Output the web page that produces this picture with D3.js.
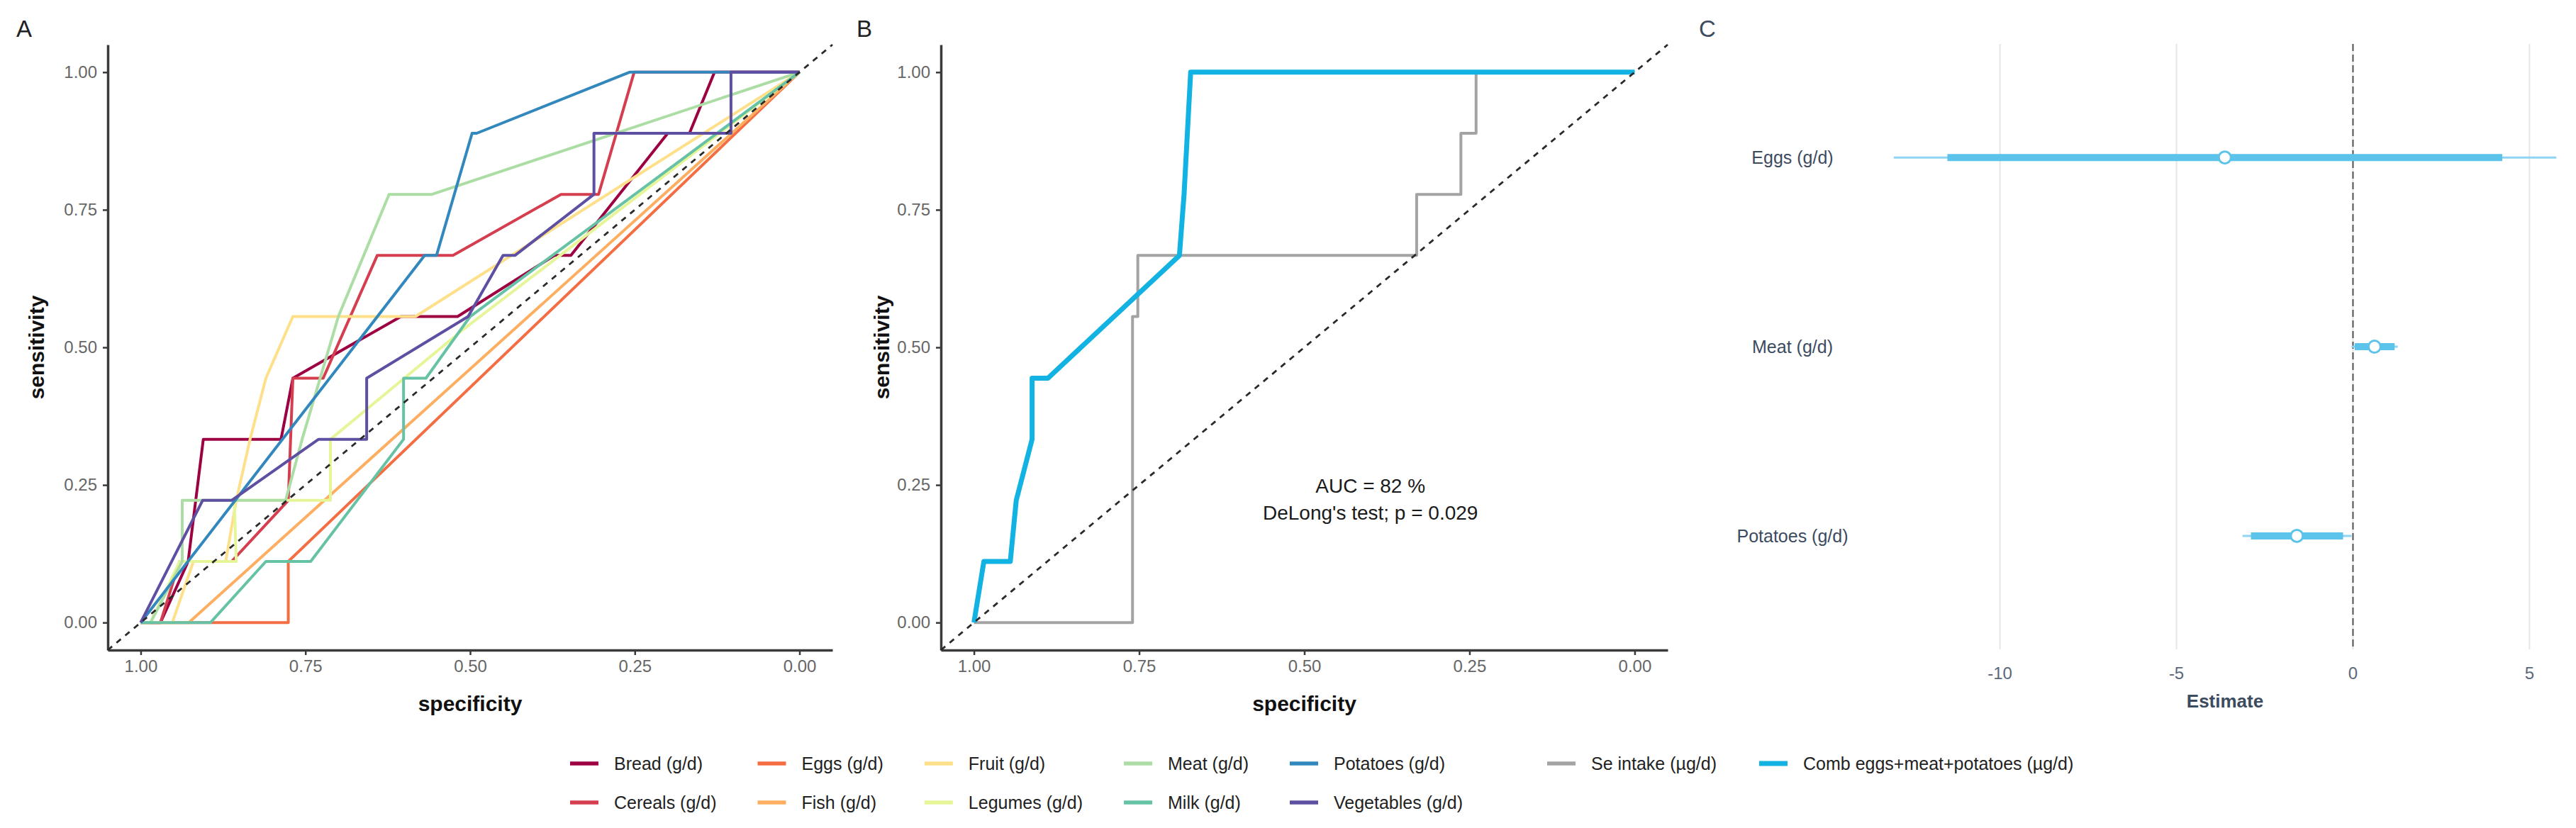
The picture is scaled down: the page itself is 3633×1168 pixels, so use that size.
<!DOCTYPE html>
<html>
<head>
<meta charset="utf-8">
<script src="https://cdn.jsdelivr.net/npm/d3@7"></script>
<style>
  body { margin: 0; background: #fff; }
  text { font-family: "Liberation Sans", Arial, sans-serif; }
</style>
</head>
<body>
<svg id="fig" width="3633" height="1168"></svg>
<script>
// ---- data ----
// panel A: ROC curves, points are [specificity, sensitivity]
const bread = [[1,0],[0.97,0],[0.928,0.111],[0.905,0.333],[0.787,0.333],[0.769,0.444],[0.605,0.556],[0.519,0.556],[0.372,0.667],[0.347,0.667],[0.20,0.889],[0.167,0.889],[0.129,1],[0,1]];
const cereals = [[1,0],[0.970,0],[0.941,0.111],[0.862,0.111],[0.776,0.222],[0.769,0.444],[0.723,0.444],[0.641,0.667],[0.526,0.667],[0.362,0.778],[0.305,0.778],[0.251,1],[0,1]];
const eggs = [[1,0],[0.776,0],[0.776,0.111],[0,1]];
const fish = [[1,0],[0.927,0],[0,1]];
const fruit = [[1,0],[0.952,0],[0.920,0.111],[0.871,0.111],[0.855,0.222],[0.834,0.333],[0.810,0.444],[0.769,0.556],[0.583,0.556],[0,1]];
const legumes = [[1,0],[0.985,0],[0.941,0.111],[0.855,0.111],[0.858,0.222],[0.712,0.222],[0.712,0.333],[0.512,0.531],[0,1]];
const meat = [[1,0],[0.985,0],[0.937,0.111],[0.937,0.222],[0.780,0.222],[0.755,0.333],[0.700,0.556],[0.623,0.778],[0.558,0.778],[0,1]];
const milk = [[1,0],[0.894,0],[0.810,0.111],[0.742,0.111],[0.601,0.333],[0.601,0.444],[0.567,0.444],[0.500,0.556],[0,1]];
const potatoes = [[1,0],[0.569,0.667],[0.551,0.667],[0.497,0.889],[0.490,0.889],[0.258,1],[0,1]];
const vegetables = [[1,0],[0.906,0.222],[0.862,0.222],[0.730,0.333],[0.657,0.333],[0.657,0.444],[0.503,0.556],[0.450,0.667],[0.432,0.667],[0.312,0.778],[0.312,0.889],[0.104,0.889],[0.104,1],[0,1]];
const foodNames = ["Bread (g/d)","Cereals (g/d)","Eggs (g/d)","Fish (g/d)","Fruit (g/d)","Legumes (g/d)","Meat (g/d)","Milk (g/d)","Potatoes (g/d)","Vegetables (g/d)"];
const foodCurves = [bread, cereals, eggs, fish, fruit, legumes, meat, milk, potatoes, vegetables];

// panel B
const seIntake = [[1,0],[0.760,0],[0.760,0.556],[0.752,0.556],[0.752,0.667],[0.330,0.667],[0.330,0.778],[0.263,0.778],[0.263,0.889],[0.240,0.889],[0.240,1],[0,1]];
const comb = [[1,0],[0.985,0.111],[0.945,0.111],[0.936,0.222],[0.912,0.333],[0.912,0.444],[0.888,0.444],[0.689,0.667],[0.682,0.778],[0.672,1],[0,1]];
const bNames = ["Se intake (\u00b5g/d)", "Comb eggs+meat+potatoes (\u00b5g/d)"];
const aucText = ["AUC = 82 %", "DeLong's test; p = 0.029"];

// panel C: estimates with inner and outer intervals
const cTerms = ["Eggs (g/d)", "Meat (g/d)", "Potatoes (g/d)"];
const cEst = [-3.63, 0.61, -1.59];
const cOuterLo = [-13.01, -0.04, -3.13];
const cOuterHi = [5.76, 1.27, -0.04];
const cInnerLo = [-11.49, 0.05, -2.89];
const cInnerHi = [4.23, 1.18, -0.28];

const rocTicks = [0, 0.25, 0.5, 0.75, 1];
const cTicks = [-10, -5, 0, 5];

// ---- styles ----
const foodColors = ["#9E0142","#D53E4F","#F46D43","#FDAE61","#FEE08B","#E6F598","#ABDDA4","#66C2A5","#3288BD","#5E4FA2"];
const bColors = ["#a3a3a3", "#12b3e2"];
const bWidths = [4, 7];
const cBlue = "#5cc3ea", cBlueLight = "#8fd4f0";
const slate = "#3d4b5f";

const svg = d3.select("#fig");
svg.append("rect").attr("width", 3633).attr("height", 1168).attr("fill", "#fff");

const y = d3.scaleLinear().domain([-0.05, 1.05]).range([917, 63]);
const xA = d3.scaleLinear().domain([1.05, -0.05]).range([152, 1174]);
const xB = d3.scaleLinear().domain([1.05, -0.05]).range([1327, 2352]);
const fmt = d3.format(".2f");

function rocAxes(x, titleX) {
  const gx = svg.append("g").attr("transform", "translate(0,917)")
    .call(d3.axisBottom(x).tickValues(rocTicks).tickFormat(fmt).tickSize(7).tickSizeOuter(0).tickPadding(7));
  const gy = svg.append("g").attr("transform", "translate(" + x.range()[0] + ",0)")
    .call(d3.axisLeft(y).tickValues(rocTicks).tickFormat(fmt).tickSize(7).tickSizeOuter(0).tickPadding(8));
  [gx, gy].forEach(function(g) {
    g.select(".domain").attr("stroke", "#3a3a3a").attr("stroke-width", 3.5);
    g.selectAll(".tick line").attr("stroke", "#3a3a3a").attr("stroke-width", 2.5);
    g.selectAll(".tick text").attr("fill", "#666").style("font-size", "24px")
      .style("font-family", "'Liberation Sans', Arial, sans-serif");
  });
  svg.append("text").attr("x", (x.range()[0] + x.range()[1]) / 2).attr("y", 992).attr("dy", "0.35em")
    .attr("text-anchor", "middle").style("font-size", "30px").style("font-weight", "bold").attr("fill", "#111")
    .text("specificity");
  svg.append("text").attr("transform", "translate(" + titleX + ",490) rotate(-90)").attr("dy", "0.35em")
    .attr("text-anchor", "middle").style("font-size", "30px").style("font-weight", "bold").attr("fill", "#111")
    .text("sensitivity");
}

function diagonal(x) {
  svg.append("line")
    .attr("x1", x(1.05)).attr("y1", y(-0.05)).attr("x2", x(-0.05)).attr("y2", y(1.05))
    .attr("stroke", "#2a2a2a").attr("stroke-width", 2.8).attr("stroke-dasharray", "8,8");
}

// ---- panel A ----
const lineA = d3.line().x(d => xA(d[0])).y(d => y(d[1]));
rocAxes(xA, 51);
foodCurves.forEach(function(c, i) {
  svg.append("path").datum(c).attr("d", lineA).attr("fill", "none")
    .attr("stroke", foodColors[i]).attr("stroke-width", 4).attr("stroke-linejoin", "round");
});
diagonal(xA);

// ---- panel B ----
const lineB = d3.line().x(d => xB(d[0])).y(d => y(d[1]));
rocAxes(xB, 1243);
[seIntake, comb].forEach(function(c, i) {
  svg.append("path").datum(c).attr("d", lineB).attr("fill", "none")
    .attr("stroke", bColors[i]).attr("stroke-width", bWidths[i]).attr("stroke-linejoin", "round");
});
diagonal(xB);
svg.selectAll(".auc").data(aucText).enter().append("text")
  .attr("x", xB(0.40)).attr("y", (d, i) => y(0.248) + i * 38).attr("dy", "0.35em")
  .attr("text-anchor", "middle").style("font-size", "28px").attr("fill", "#1a1a1a")
  .text(d => d);

// ---- panel C ----
const xC = d3.scaleLinear().domain([-13.95, 6.70]).range([2624, 3652]);
const yC = d3.scalePoint().domain(cTerms).range([62, 916]).padding(0.6);

svg.append("g").selectAll("line").data(cTicks).enter().append("line")
  .attr("x1", d => xC(d)).attr("x2", d => xC(d)).attr("y1", 62).attr("y2", 916)
  .attr("stroke", "#e6e6e6").attr("stroke-width", 2);
svg.append("line").attr("x1", xC(0)).attr("x2", xC(0)).attr("y1", 62).attr("y2", 916)
  .attr("stroke", "#555").attr("stroke-width", 2).attr("stroke-dasharray", "10,5");

const gC = svg.append("g");
cTerms.forEach(function(t, i) {
  const yy = yC(t);
  gC.append("line").attr("x1", xC(cOuterLo[i])).attr("x2", xC(cOuterHi[i])).attr("y1", yy).attr("y2", yy)
    .attr("stroke", cBlueLight).attr("stroke-width", 3);
  gC.append("line").attr("x1", xC(cInnerLo[i])).attr("x2", xC(cInnerHi[i])).attr("y1", yy).attr("y2", yy)
    .attr("stroke", cBlue).attr("stroke-width", 10);
  gC.append("circle").attr("cx", xC(cEst[i])).attr("cy", yy).attr("r", 8.5)
    .attr("fill", "#fff").attr("stroke", cBlue).attr("stroke-width", 3);
});
svg.selectAll(".cterm").data(cTerms).enter().append("text")
  .attr("x", 2528).attr("y", d => yC(d)).attr("dy", "0.35em").attr("text-anchor", "middle")
  .style("font-size", "25px").attr("fill", slate).text(d => d);
svg.selectAll(".ctick").data(cTicks).enter().append("text")
  .attr("x", d => xC(d)).attr("y", 950).attr("dy", "0.35em").attr("text-anchor", "middle")
  .style("font-size", "24px").attr("fill", "#5a687a").text(d => d);
svg.append("text").attr("x", (xC.range()[0] + xC.range()[1]) / 2).attr("y", 989).attr("dy", "0.35em")
  .attr("text-anchor", "middle").style("font-size", "26px").style("font-weight", "bold").attr("fill", slate)
  .text("Estimate");

// ---- panel letters ----
[["A", 34, "#222"], ["B", 1219, "#222"], ["C", 2408, slate]].forEach(function(p) {
  svg.append("text").attr("x", p[1]).attr("y", 40).attr("dy", "0.35em").attr("text-anchor", "middle")
    .style("font-size", "33px").attr("fill", p[2]).text(p[0]);
});

// ---- legends ----
const rowY = [1077, 1132];
const leg = svg.append("g");
function legendItem(cx, yy, color, width, label) {
  leg.append("line").attr("x1", cx - 20).attr("x2", cx + 20).attr("y1", yy).attr("y2", yy)
    .attr("stroke", color).attr("stroke-width", width);
  const t = leg.append("text").attr("x", cx + 42).attr("y", yy).attr("dy", "0.35em")
    .style("font-size", "25px").attr("fill", "#222").text(label);
  return t.node().getComputedTextLength();
}
let kx = 824;
for (let col = 0; col < 5; col++) {
  let w = 0;
  for (let row = 0; row < 2; row++) {
    const k = col * 2 + row;
    w = Math.max(w, legendItem(kx, rowY[row], foodColors[k], 5.5, foodNames[k]));
  }
  kx = kx + 42 + w + 78;
}
kx = 2202;
bNames.forEach(function(n, i) {
  const w = legendItem(kx, rowY[0], bColors[i], i === 0 ? 5.5 : 7, n);
  kx = kx + 42 + w + 80;
});
</script>
</body>
</html>
